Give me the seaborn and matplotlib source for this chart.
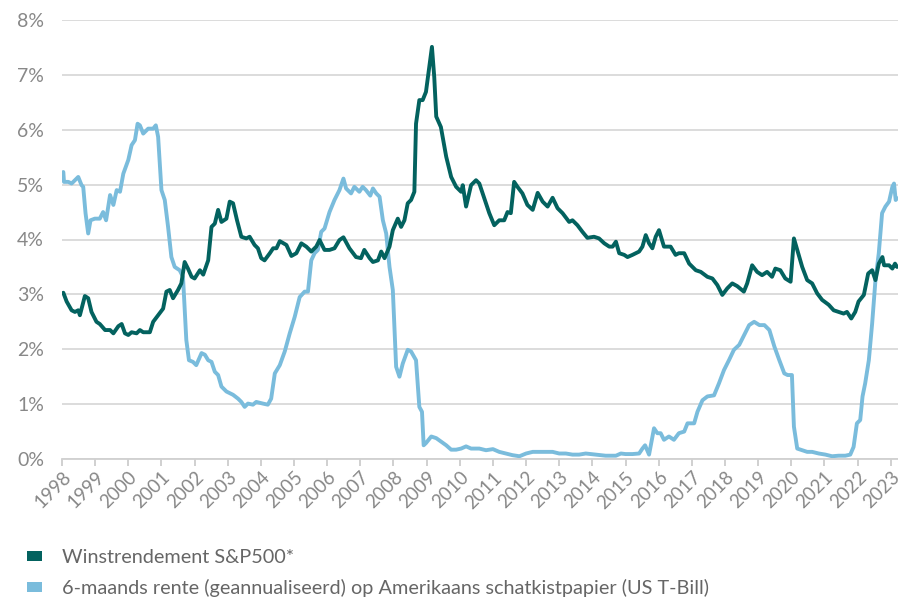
import numpy as np
import pandas as pd
import matplotlib
matplotlib.use("Agg")
import matplotlib.pyplot as plt
from matplotlib.patches import Patch
import seaborn as sns

# ---------------- data ----------------
eps_years = [1998.04, 1998.14, 1998.29, 1998.39, 1998.49, 1998.54, 1998.69, 1998.79, 1998.89,
             1999.04, 1999.14, 1999.30, 1999.45, 1999.55, 1999.70, 1999.80, 1999.90, 2000.00,
             2000.10, 2000.25, 2000.35, 2000.45, 2000.65, 2000.75, 2000.90, 2001.05, 2001.15,
             2001.25, 2001.35, 2001.50, 2001.60, 2001.70, 2001.80, 2001.91, 2002.00, 2002.16,
             2002.26, 2002.41, 2002.51, 2002.61, 2002.71, 2002.81, 2002.96, 2003.06, 2003.16,
             2003.28, 2003.41, 2003.56, 2003.66, 2003.81, 2003.91, 2004.01, 2004.11, 2004.27,
             2004.37, 2004.47, 2004.57, 2004.77, 2004.92, 2005.07, 2005.22, 2005.37, 2005.52,
             2005.67, 2005.77, 2005.92, 2006.07, 2006.22, 2006.37, 2006.49, 2006.67, 2006.87,
             2007.02, 2007.12, 2007.28, 2007.38, 2007.53, 2007.63, 2007.73, 2007.88, 2007.98,
             2008.13, 2008.23, 2008.33, 2008.43, 2008.53, 2008.63, 2008.68, 2008.78, 2008.88,
             2008.98, 2009.08, 2009.16, 2009.23, 2009.29, 2009.43, 2009.59, 2009.74, 2009.89,
             2010.04, 2010.09, 2010.19, 2010.34, 2010.49, 2010.59, 2010.74, 2010.89, 2011.04,
             2011.19, 2011.34, 2011.44, 2011.54, 2011.64, 2011.74, 2011.89, 2012.04, 2012.20,
             2012.35, 2012.50, 2012.65, 2012.80, 2012.95, 2013.10, 2013.30, 2013.40, 2013.55,
             2013.70, 2013.85, 2014.05, 2014.20, 2014.36, 2014.51, 2014.61, 2014.71, 2014.81,
             2014.96, 2015.06, 2015.21, 2015.41, 2015.51, 2015.61, 2015.71, 2015.81, 2015.91,
             2016.01, 2016.16, 2016.26, 2016.36, 2016.51, 2016.61, 2016.77, 2016.92, 2017.12,
             2017.27, 2017.47, 2017.62, 2017.77, 2017.92, 2018.07, 2018.22, 2018.37, 2018.57,
             2018.67, 2018.82, 2018.97, 2019.12, 2019.27, 2019.42, 2019.52, 2019.67, 2019.82,
             2019.98, 2020.08, 2020.18, 2020.33, 2020.48, 2020.63, 2020.78, 2020.93, 2021.13,
             2021.28, 2021.43, 2021.58, 2021.68, 2021.81, 2021.93, 2022.03, 2022.19, 2022.32,
             2022.44, 2022.54, 2022.64, 2022.75, 2022.80, 2022.95, 2023.05, 2023.13, 2023.19]
eps_values = [3.03, 2.87, 2.71, 2.68, 2.71, 2.62, 2.97, 2.93, 2.68,
              2.50, 2.46, 2.35, 2.35, 2.29, 2.42, 2.46, 2.29, 2.26,
              2.31, 2.29, 2.35, 2.31, 2.31, 2.50, 2.62, 2.74, 3.05,
              3.08, 2.93, 3.08, 3.20, 3.59, 3.47, 3.32, 3.29, 3.44,
              3.36, 3.62, 4.23, 4.29, 4.54, 4.32, 4.38, 4.69, 4.66,
              4.35, 4.05, 4.02, 4.05, 3.90, 3.84, 3.66, 3.62, 3.75,
              3.84, 3.84, 3.97, 3.90, 3.70, 3.75, 3.93, 3.87, 3.78,
              3.87, 3.99, 3.81, 3.81, 3.84, 3.99, 4.04, 3.84, 3.68,
              3.66, 3.81, 3.66, 3.59, 3.62, 3.78, 3.66, 3.87, 4.17,
              4.38, 4.23, 4.35, 4.66, 4.72, 4.87, 6.11, 6.54, 6.54,
              6.69, 7.15, 7.51, 6.96, 6.24, 6.05, 5.51, 5.14, 4.96,
              4.87, 4.99, 4.60, 4.99, 5.08, 5.02, 4.75, 4.48, 4.26,
              4.35, 4.35, 4.50, 4.48, 5.05, 4.96, 4.84, 4.63, 4.54,
              4.85, 4.69, 4.60, 4.76, 4.57, 4.48, 4.32, 4.35, 4.26,
              4.14, 4.03, 4.05, 4.02, 3.93, 3.87, 3.87, 3.96, 3.75,
              3.72, 3.68, 3.72, 3.78, 3.87, 4.08, 3.93, 3.84, 4.05,
              4.17, 3.87, 3.87, 3.87, 3.72, 3.75, 3.75, 3.56, 3.44,
              3.41, 3.32, 3.29, 3.17, 2.99, 3.11, 3.20, 3.15, 3.05,
              3.20, 3.53, 3.41, 3.35, 3.41, 3.32, 3.47, 3.44, 3.29,
              3.23, 4.02, 3.81, 3.50, 3.26, 3.20, 3.02, 2.90, 2.81,
              2.71, 2.68, 2.65, 2.68, 2.56, 2.68, 2.87, 2.99, 3.38,
              3.44, 3.26, 3.56, 3.68, 3.53, 3.53, 3.47, 3.56, 3.50]

tbill_years = [1998.04, 1998.06, 1998.19, 1998.29, 1998.39, 1998.49, 1998.59, 1998.64, 1998.71,
               1998.79, 1998.86, 1998.99, 1999.14, 1999.24, 1999.33, 1999.45, 1999.55, 1999.65,
               1999.75, 1999.85, 2000.00, 2000.10, 2000.20, 2000.28, 2000.35, 2000.45, 2000.60,
               2000.75, 2000.83, 2000.90, 2001.00, 2001.10, 2001.20, 2001.30, 2001.40, 2001.55,
               2001.65, 2001.75, 2001.83, 2001.95, 2002.05, 2002.21, 2002.31, 2002.41, 2002.51,
               2002.61, 2002.71, 2002.81, 2002.96, 2003.16, 2003.31, 2003.41, 2003.51, 2003.61,
               2003.76, 2003.86, 2004.06, 2004.21, 2004.31, 2004.42, 2004.57, 2004.72, 2004.87,
               2005.02, 2005.17, 2005.32, 2005.42, 2005.52, 2005.62, 2005.72, 2005.82, 2005.92,
               2006.07, 2006.22, 2006.37, 2006.49, 2006.57, 2006.72, 2006.82, 2006.97, 2007.07,
               2007.17, 2007.30, 2007.38, 2007.48, 2007.58, 2007.68, 2007.78, 2007.88, 2007.98,
               2008.08, 2008.18, 2008.28, 2008.43, 2008.53, 2008.68, 2008.78, 2008.86, 2008.91,
               2008.98, 2009.14, 2009.29, 2009.43, 2009.59, 2009.74, 2009.89, 2010.04, 2010.19,
               2010.34, 2010.59, 2010.79, 2011.00, 2011.19, 2011.39, 2011.59, 2011.80, 2012.00,
               2012.20, 2012.40, 2012.60, 2012.80, 2013.00, 2013.20, 2013.40, 2013.60, 2013.80,
               2014.10, 2014.40, 2014.71, 2014.86, 2015.00, 2015.21, 2015.41, 2015.51, 2015.59,
               2015.71, 2015.86, 2015.96, 2016.06, 2016.16, 2016.31, 2016.46, 2016.61, 2016.77,
               2016.87, 2017.07, 2017.17, 2017.32, 2017.47, 2017.67, 2017.82, 2017.97, 2018.12,
               2018.27, 2018.43, 2018.58, 2018.73, 2018.88, 2019.04, 2019.19, 2019.34, 2019.49,
               2019.64, 2019.79, 2019.89, 2020.02, 2020.08, 2020.18, 2020.33, 2020.48, 2020.63,
               2020.83, 2021.03, 2021.23, 2021.43, 2021.63, 2021.78, 2021.88, 2021.98, 2022.08,
               2022.15, 2022.23, 2022.34, 2022.44, 2022.54, 2022.64, 2022.74, 2022.84, 2022.95,
               2023.05, 2023.10, 2023.15, 2023.19]
tbill_values = [5.23, 5.05, 5.05, 5.02, 5.08, 5.14, 4.99, 4.96, 4.48,
                4.11, 4.35, 4.38, 4.38, 4.50, 4.35, 4.81, 4.63, 4.90,
                4.87, 5.20, 5.45, 5.72, 5.81, 6.11, 6.08, 5.93, 6.02,
                6.02, 6.08, 5.87, 4.90, 4.72, 4.23, 3.68, 3.50, 3.44,
                3.32, 2.17, 1.80, 1.77, 1.71, 1.93, 1.90, 1.80, 1.77,
                1.59, 1.53, 1.32, 1.23, 1.17, 1.10, 1.04, 0.95, 1.01,
                0.99, 1.04, 1.01, 0.99, 1.10, 1.56, 1.71, 1.96, 2.29,
                2.59, 2.95, 3.05, 3.05, 3.62, 3.75, 3.81, 4.14, 4.20,
                4.50, 4.72, 4.90, 5.11, 4.93, 4.84, 4.96, 4.87, 4.96,
                4.90, 4.80, 4.93, 4.84, 4.78, 4.35, 4.11, 3.50, 3.08,
                1.68, 1.50, 1.74, 1.99, 1.96, 1.80, 0.95, 0.86, 0.25,
                0.29, 0.41, 0.38, 0.32, 0.25, 0.17, 0.17, 0.19, 0.23,
                0.19, 0.19, 0.16, 0.18, 0.13, 0.10, 0.07, 0.05, 0.10,
                0.13, 0.13, 0.13, 0.13, 0.10, 0.10, 0.08, 0.08, 0.10,
                0.08, 0.06, 0.06, 0.10, 0.09, 0.09, 0.10, 0.19, 0.25,
                0.08, 0.56, 0.47, 0.47, 0.35, 0.41, 0.35, 0.47, 0.50,
                0.65, 0.65, 0.86, 1.07, 1.14, 1.16, 1.38, 1.62, 1.80,
                1.99, 2.08, 2.26, 2.44, 2.50, 2.44, 2.44, 2.35, 2.05,
                1.80, 1.56, 1.53, 1.53, 0.59, 0.19, 0.16, 0.13, 0.13,
                0.10, 0.08, 0.05, 0.06, 0.06, 0.08, 0.22, 0.65, 0.71,
                1.14, 1.38, 1.80, 2.47, 3.26, 3.75, 4.48, 4.60, 4.69,
                4.96, 5.02, 4.72, 4.75]

series_names = ["Winstrendement S&P500*",
                "6-maands rente (geannualiseerd) op Amerikaans schatkistpapier (US T-Bill)"]
year_ticks = list(range(1998, 2024))
y_ticks = [0, 1, 2, 3, 4, 5, 6, 7, 8]

dark = "#03625f"
light = "#7abcdc"
grey_text = "#888888"

df = pd.concat([
    pd.DataFrame({"jaar": eps_years, "waarde": eps_values, "reeks": series_names[0]}),
    pd.DataFrame({"jaar": tbill_years, "waarde": tbill_values, "reeks": series_names[1]}),
], ignore_index=True)

sns.set_theme(style="white")
plt.rcParams["font.family"] = ["Lato", "DejaVu Sans"]

fig = plt.figure(figsize=(8.98, 5.98), dpi=100)
ax = fig.add_axes([62 / 898, 1 - 459 / 598, 836 / 898, (459 - 20) / 598])

sns.lineplot(data=df, x="jaar", y="waarde", hue="reeks",
             palette={series_names[0]: dark, series_names[1]: light},
             hue_order=[series_names[1], series_names[0]], sort=False,
             linewidth=2.8, ax=ax, legend=False)

ax.set_xlim(1998, 2023.22)
ax.set_ylim(0, 8)
ax.set_yticks(y_ticks)
ax.set_yticklabels([f"{v}%" for v in y_ticks])
ax.set_xticks(year_ticks)
ax.set_xticklabels([str(y) for y in year_ticks], rotation=45, ha="right",
                   rotation_mode="anchor")
ax.set_xlabel("")
ax.set_ylabel("")

ax.grid(axis="y", color="#d9d9d9", linewidth=1.3)
ax.grid(axis="x", visible=False)
for s in ["top", "right", "left"]:
    ax.spines[s].set_visible(False)
ax.spines["bottom"].set_color("#d0d0d0")
ax.spines["bottom"].set_linewidth(1.3)
ax.tick_params(axis="y", length=0, pad=13, labelsize=14, labelcolor=grey_text)
ax.tick_params(axis="x", length=5, width=1.2, color="#c8c8c8", direction="out",
               pad=2, labelsize=13.5, labelcolor=grey_text, bottom=True)

handles = [Patch(facecolor=dark, edgecolor="none"), Patch(facecolor=light, edgecolor="none")]
fig.legend(handles, series_names, loc="upper left", bbox_to_anchor=(27 / 898, 1 - 549 / 598),
           frameon=False, handlelength=0.76, handleheight=0.42, handletextpad=1.0,
           labelspacing=0.66, fontsize=14.3, labelcolor="#666666", borderaxespad=0,
           borderpad=0)

fig.savefig("out.png", dpi=100)
